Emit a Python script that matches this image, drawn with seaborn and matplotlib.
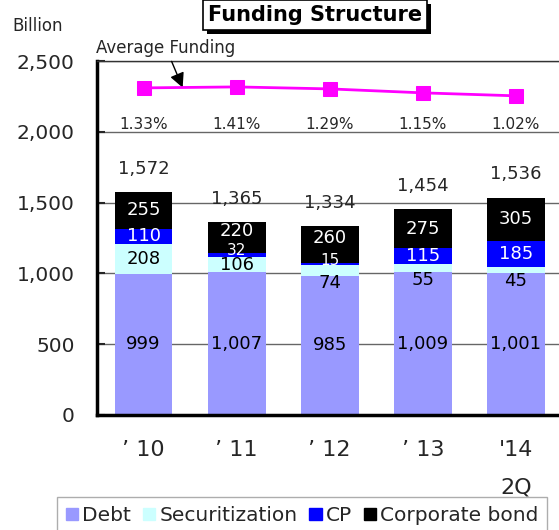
import numpy as np
import matplotlib
matplotlib.use("Agg")
import matplotlib.pyplot as plt
import matplotlib.patches as mpatches
import matplotlib.patheffects as pe
import seaborn as sns

# data (billion yen)
years = ["\u2019 10", "\u2019 11", "\u2019 12", "\u2019 13", "'14\n2Q"]
debt = [999, 1007, 985, 1009, 1001]
securitization = [208, 106, 74, 55, 45]
cp = [110, 32, 15, 115, 185]
corp_bond = [255, 220, 260, 275, 305]
totals = [1572, 1365, 1334, 1454, 1536]
avg_funding = [2310, 2317, 2303, 2275, 2254]
avg_rate = ["1.33%", "1.41%", "1.29%", "1.15%", "1.02%"]

series_names = ["Debt", "Securitization", "CP", "Corporate bond"]
series_colors = ["#9999FF", "#CCFFFF", "#0000FF", "#000000"]
text_colors = ["black", "black", "white", "white"]

sns.set_style("white")
plt.rcParams['font.family'] = ['DejaVu Sans']

fig = plt.figure(figsize=(5.59, 5.30), dpi=100)
ax = fig.add_axes([97/559, 115/530, 465.5/559, 354/530])

x = np.arange(len(years))
stack = [debt, securitization, cp, corp_bond]
bottom = np.zeros(len(years))
for vals, col, tcol, name in zip(stack, series_colors, text_colors, series_names):
    vals = np.array(vals, dtype=float)
    sns.barplot(x=x, y=vals, bottom=bottom, color=col, width=0.62, saturation=1,
                ax=ax, native_scale=True, zorder=2, edgecolor='none')
    for i, v in enumerate(vals):
        lab = f"{int(v):,}"
        if name == "Securitization" and v < 80:
            # small slice: label hangs just under it
            ax.text(i, bottom[i] + 10, lab, ha='center', va='top',
                    fontsize=13, color=tcol, zorder=5)
        elif name == "CP" and v < 80:
            ax.text(i, bottom[i] + v + 20, lab, ha='center', va='center',
                    fontsize=11, color=tcol, zorder=5)
        elif name == "Corporate bond" and cp[i] < 80:
            ax.text(i, bottom[i] + v / 2 + 45, lab, ha='center', va='center',
                    fontsize=13, color=tcol, zorder=5)
        else:
            ax.text(i, bottom[i] + v / 2, lab, ha='center', va='center',
                    fontsize=13, color=tcol, zorder=5)
    bottom += vals

# totals above bars
for i, t in enumerate(totals):
    ax.text(i, t + 100, f"{t:,}", ha='center', va='bottom', fontsize=13, zorder=5)

# average funding line
sns.lineplot(x=x, y=avg_funding, ax=ax, color='#FF00FF', lw=2, marker='s',
             markersize=10, markeredgecolor='#FF00FF', zorder=6)
for i, r in enumerate(avg_rate):
    ax.text(i, 2050, r, ha='center', va='center', fontsize=11, zorder=5)

ax.annotate("Average Funding", xy=(0.42, 2312), xytext=(0.24, 2593),
            ha='center', va='center', fontsize=12, annotation_clip=False,
            arrowprops=dict(arrowstyle='-|>', color='black', lw=1,
                            mutation_scale=22, shrinkA=1, shrinkB=0))

ax.set_xlim(-0.5, 4.5)
ax.set_ylim(0, 2500)
ax.set_yticks(range(0, 2501, 500))
ax.set_yticklabels([f"{v:,}" for v in range(0, 2501, 500)], fontsize=14.5)
ax.set_xticks(x)
ax.set_xticklabels(years, fontsize=16, linespacing=2.1)
ax.set_xticks(x[:-1] + 0.5, minor=True)
ax.tick_params(axis='x', which='major', length=0, pad=18)
ax.tick_params(axis='x', which='minor', direction='in', length=6, width=1.5)
ax.tick_params(axis='y', direction='in', length=6, width=1.5, pad=16, left=True)
ax.set_xlabel("")
ax.set_ylabel("")
ax.yaxis.grid(True, color='#666666', lw=1, zorder=0)
ax.set_axisbelow(True)
for s in ['left', 'bottom']:
    ax.spines[s].set_linewidth(2.5)
    ax.spines[s].set_color('black')
ax.spines['top'].set_color('#333333')
ax.spines['top'].set_linewidth(1)
ax.spines['right'].set_visible(False)

# title with shadow box
title = fig.text(0.5635, 1 - 15/530, "Funding Structure", ha='center', va='center',
                 fontsize=15, fontweight='bold', color='black',
                 bbox=dict(boxstyle='square,pad=0.25', fc='white', ec='black', lw=1.2))
title.get_bbox_patch().set_path_effects(
    [pe.SimplePatchShadow(offset=(3, -3), shadow_rgbFace='black', alpha=1), pe.Normal()])

fig.text(12/559, 1 - 26/530, "Billion", ha='left', va='center', fontsize=12)

handles = [mpatches.Patch(color=c, label=n) for c, n in zip(series_colors, series_names)]
fig.legend(handles=handles, loc='upper left', bbox_to_anchor=(57/559, 1 - 497/530),
           ncol=4, fontsize=14.5, frameon=True, fancybox=False, edgecolor='#999999',
           handlelength=0.6, handleheight=0.6, handletextpad=0.2, columnspacing=0.6,
           borderpad=0.45, borderaxespad=0)

fig.savefig("out.png", dpi=100)
